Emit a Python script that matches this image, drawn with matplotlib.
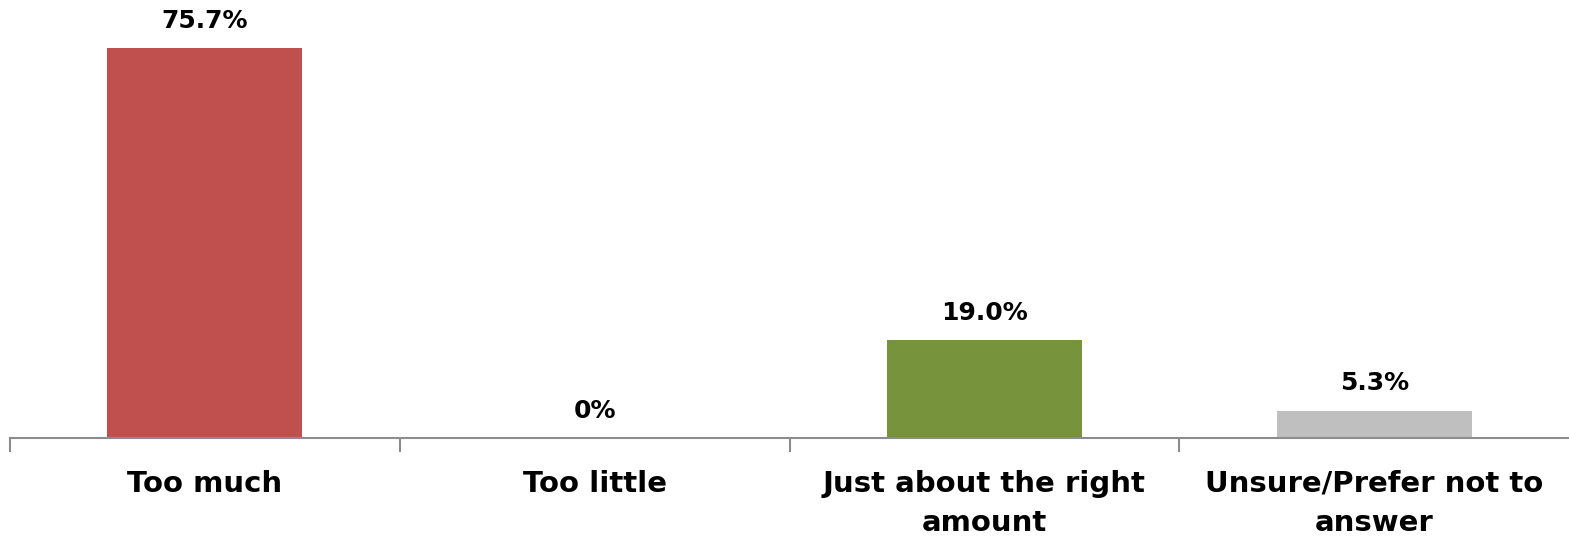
import matplotlib.pyplot as plt

categories = ["Too much", "Too little", "Just about the right\namount", "Unsure/Prefer not to\nanswer"]
values = [75.7, 0.0, 19.0, 5.3]
value_labels = ["75.7%", "0%", "19.0%", "5.3%"]
colors = ["#C0504D", "#C0504D", "#77933C", "#BFBFBF"]

fig = plt.figure(figsize=(15.69, 5.40), dpi=100)
ax = fig.add_axes([10 / 1569, 102 / 540, 1559 / 1569, 438 / 540])

x = range(len(categories))
ax.bar(x, values, width=0.5, color=colors, zorder=2)

for xi, v, lab in zip(x, values, value_labels):
    ax.annotate(lab, (xi, v), xytext=(0, 11), textcoords="offset points",
                ha="center", va="bottom", fontsize=18, fontweight="heavy",
                family="DejaVu Sans")

ax.set_xlim(-0.5, 3.5)
ax.set_ylim(0, 85)
ax.set_yticks([])
for s in ["top", "right", "left"]:
    ax.spines[s].set_visible(False)
ax.spines["bottom"].set_color("#8C8C8C")
ax.spines["bottom"].set_linewidth(1.5)

# category boundary ticks
ax.set_xticks([-0.5, 0.5, 1.5, 2.5], minor=True)
ax.tick_params(axis="x", which="minor", length=10, width=1.5, color="#8C8C8C")
ax.set_xticks(list(x))
ax.set_xticklabels(categories, fontsize=21, fontweight="heavy", linespacing=1.5,
                   family="DejaVu Sans")
ax.tick_params(axis="x", which="major", length=0, pad=23)

fig.savefig("out.png", dpi=100)
